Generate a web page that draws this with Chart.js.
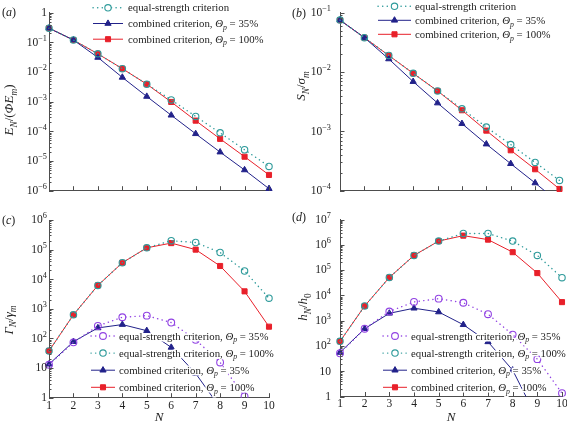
<!DOCTYPE html>
<html>
<head>
<meta charset="utf-8">
<script src="https://cdn.jsdelivr.net/npm/chart.js@4.4.1/dist/chart.umd.min.js"></script>
<style>
  body { margin: 0; background: #fff; }
  #wrap { position: relative; width: 567px; height: 428px; overflow: hidden; background: #fff; }
  canvas { position: absolute; }
</style>
</head>
<body>
<div id="wrap">
  <canvas id="chartA" width="283" height="205" style="left:0;top:0;width:283px;height:205px"></canvas>
  <canvas id="chartB" width="284" height="205" style="left:283px;top:0;width:284px;height:205px"></canvas>
  <canvas id="chartC" width="283" height="223" style="left:0;top:205px;width:283px;height:223px"></canvas>
  <canvas id="chartD" width="290" height="223" style="left:283px;top:205px;width:290px;height:223px"></canvas>
</div>
<script>
// number of blocks N
const nValues = [1, 2, 3, 4, 5, 6, 7, 8, 9, 10];

// (a) E_N/(ΦE_m)
const energyEqual   = [0.3, 0.12, 0.041, 0.013, 0.0039, 0.00115, 3.2e-4, 8.9e-5, 2.4e-5, 6.6e-6];
const energyComb35  = [0.3, 0.12, 0.031, 0.0066, 0.0015, 3.5e-4, 8.3e-5, 2.0e-5, 5.0e-6, 1.17e-6];
const energyComb100 = [0.3, 0.12, 0.041, 0.013, 0.0039, 9.8e-4, 2.3e-4, 5.6e-5, 1.4e-5, 3.4e-6];

// (b) S_N/σ_m
const stressEqual   = [0.075, 0.038, 0.019, 0.0095, 0.0048, 0.0024, 0.00118, 6.0e-4, 3.0e-4, 1.49e-4];
const stressComb35  = [0.075, 0.038, 0.0166, 0.0069, 0.003, 0.00135, 6.1e-4, 2.85e-4, 1.35e-4, 6.2e-5];
const stressComb100 = [0.075, 0.038, 0.019, 0.0095, 0.0048, 0.00227, 0.00103, 4.8e-4, 2.3e-4, 1.07e-4];

// (c) Γ_N/γ_m
const gammaEqual35   = [13, 74, 265, 520, 590, 345, 90, 15.5, 1.1, null];
const gammaEqual100  = [38, 630, 6200, 3.6e4, 1.15e5, 2.0e5, 1.74e5, 8.0e4, 1.9e4, 2300];
const gammaComb35    = [13.5, 78, 227, 295, 183, 50, 6.6, 0.46, null, null];
const gammaComb100   = [38, 630, 6200, 3.6e4, 1.15e5, 1.66e5, 1.0e5, 2.8e4, 3900, 250];

// (d) h_N/h_0
const heightEqual35  = [51, 480, 2300, 5500, 7400, 5100, 1800, 280, 30, 1.35];
const heightEqual100 = [152, 3800, 51000, 3.8e5, 1.4e6, 2.8e6, 2.8e6, 1.4e6, 3.8e5, 5.0e4];
const heightComb35   = [55, 480, 1950, 3100, 2200, 690, 145, 11, 0.13, null];
const heightComb100  = [152, 3800, 51000, 3.8e5, 1.4e6, 2.3e6, 1.6e6, 5.1e5, 7.6e4, 5400];

// y tick values (decades)
const ticksA = [1e-6, 1e-5, 1e-4, 1e-3, 1e-2, 1e-1, 1];
const ticksB = [1e-4, 1e-3, 1e-2, 1e-1];
const ticksC = [1, 10, 1e2, 1e3, 1e4, 1e5, 1e6];
const ticksD = [1, 10, 1e2, 1e3, 1e4, 1e5, 1e6, 1e7];

const labelEqual = 'equal-strength criterion';
const labelEqual35 = 'equal-strength criterion, Θ_p = 35%';
const labelEqual100 = 'equal-strength criterion, Θ_p = 100%';
const labelComb35 = 'combined criterion, Θ_p = 35%';
const labelComb100 = 'combined criterion, Θ_p = 100%';

const FONT = "'Liberation Serif', 'DejaVu Serif', serif";
const RED = '#e8202a', NAVY = '#22228a', TEAL = '#2f9b9b', VIOLET = '#9142e3';
const AXIS = '#4d4d4d';

const styles = {
  teal:   { color: TEAL,   dotted: true, pointStyle: 'circle',   radius: 3.2, hollow: true },
  violet: { color: VIOLET, dotted: true, pointStyle: 'circle',   radius: 3.4, hollow: true },
  navy:   { color: NAVY,   dotted: false, pointStyle: 'triangle', radius: 3.6, hollow: false },
  red:    { color: RED,    dotted: false, pointStyle: 'rect',     radius: 3.6, hollow: false }
};

// "1", "10", "10^e" as rich-text parts
function decadeParts(v) {
  const e = Math.round(Math.log10(v));
  if (e === 0) return [['1', '']];
  if (e === 1) return [['10', '']];
  return [['10', ''], [String(e).replace('-', '\u2212'), 'u']];
}

function makeDataset(label, values, st, order, clipBottom) {
  return {
    label: label,
    order: order,
    data: nValues.map((n, i) => ({ x: n, y: values[i] })),
    borderColor: st.color,
    borderWidth: st.dotted ? 1.4 : 1,
    borderDash: st.dotted ? [0.2, 4.4] : [],
    borderCapStyle: st.dotted ? 'round' : 'butt',
    pointStyle: st.pointStyle,
    pointRadius: st.radius,
    pointBackgroundColor: st.hollow ? 'rgba(0,0,0,0)' : st.color,
    pointBorderColor: st.color,
    pointBorderWidth: st.hollow ? 1.1 : 1,
    tension: 0,
    clip: { left: 8, right: 8, top: 8, bottom: clipBottom },
    legendStyle: st
  };
}

// text with italics, sub- and superscripts: parts = [[text, kind]], kind: 'i' italic, 's' sub, 'u' sup
function drawRich(ctx, parts, x, y, size, align, halo) {
  const items = parts.map(([t, k]) => {
    const small = k.includes('s') || k.includes('u');
    const s = small ? size * 0.72 : size;
    ctx.font = (k.includes('i') ? 'italic ' : '') + s + 'px ' + FONT;
    let dy = 0;
    if (k.includes('s')) dy = size * 0.25;
    if (k.includes('u')) dy = -size * 0.42;
    return { t: t, font: ctx.font, w: ctx.measureText(t).width, dy: dy };
  });
  const total = items.reduce((a, b) => a + b.w, 0);
  let x0 = x;
  if (align === 'center') x0 = x - total / 2;
  if (align === 'right') x0 = x - total;
  const base = y + size * 0.33;
  ctx.textAlign = 'left';
  ctx.textBaseline = 'alphabetic';
  if (halo) {
    ctx.save();
    ctx.strokeStyle = '#fff';
    ctx.lineWidth = 3;
    ctx.lineJoin = 'round';
    let hx = x0;
    items.forEach(it => { ctx.font = it.font; ctx.strokeText(it.t, hx, base + it.dy); hx += it.w; });
    ctx.restore();
  }
  let cx = x0;
  items.forEach(it => { ctx.font = it.font; ctx.fillText(it.t, cx, base + it.dy); cx += it.w; });
  return total;
}

function legendParts(label) {
  const k = label.indexOf('Θ_p');
  if (k < 0) return [[label, '']];
  return [[label.slice(0, k), ''], ['Θ', 'i'], ['p', 'is'], [label.slice(k + 3), '']];
}

const panelPlugin = {
  id: 'panel',
  afterDraw(chart, args, opts) {
    const ctx = chart.ctx;
    const area = chart.chartArea;
    const xs = chart.scales.x, ys = chart.scales.y;
    ctx.save();

    // inward tick marks
    ctx.strokeStyle = AXIS;
    ctx.lineWidth = 1;
    ctx.beginPath();
    for (let n = xs.min; n <= xs.max; n++) {
      const px = Math.round(xs.getPixelForValue(n)) + 0.5;
      ctx.moveTo(px, area.bottom);
      ctx.lineTo(px, area.bottom - 4.5);
    }
    const eMin = Math.round(Math.log10(ys.min)), eMax = Math.round(Math.log10(ys.max));
    for (let e = eMin; e <= eMax; e++) {
      const base = Math.pow(10, e);
      const py = Math.round(ys.getPixelForValue(base)) + 0.5;
      ctx.moveTo(area.left, py);
      ctx.lineTo(area.left + 4.5, py);
      if (e < eMax) {
        for (let k = 2; k <= 9; k++) {
          const my = Math.round(ys.getPixelForValue(k * base)) + 0.5;
          ctx.moveTo(area.left, my);
          ctx.lineTo(area.left + 2.5, my);
        }
      }
    }
    ctx.stroke();

    // y tick labels with superscript exponents, placed by the log scale
    ctx.fillStyle = '#222';
    ys.ticks.forEach(t => {
      drawRich(ctx, decadeParts(t.value), area.left - opts.labelGap, ys.getPixelForValue(t.value) - 0.5, 11.5, 'right', false);
    });

    // legend
    const lg = opts.legend;
    chart.data.datasets.forEach((ds, i) => {
      const st = ds.legendStyle;
      const y = lg.y + i * lg.dy;
      ctx.strokeStyle = st.color;
      ctx.lineWidth = st.dotted ? 1.4 : 1;
      ctx.lineCap = st.dotted ? 'round' : 'butt';
      ctx.setLineDash(st.dotted ? [0.2, 4.4] : []);
      ctx.beginPath();
      ctx.moveTo(lg.x, y);
      ctx.lineTo(lg.x + lg.len, y);
      ctx.stroke();
      ctx.setLineDash([]);
      ctx.fillStyle = st.hollow ? '#fff' : st.color;
      ctx.lineWidth = st.hollow ? 1.1 : 1;
      Chart.helpers.drawPoint(ctx, { pointStyle: st.pointStyle, radius: st.radius, rotation: 0, borderWidth: 1 }, lg.x + lg.len / 2, y);
      ctx.fillStyle = '#222';
      drawRich(ctx, legendParts(ds.label), lg.x + lg.len + lg.gap, y, 10.8, 'left', true);
    });

    // panel letter
    ctx.fillStyle = '#222';
    drawRich(ctx, [['(', ''], [opts.letter, 'i'], [')', '']], opts.letterPos[0], opts.letterPos[1], 12, 'left', false);

    // y title
    ctx.save();
    ctx.translate(opts.yTitlePos[0], opts.yTitlePos[1]);
    ctx.rotate(-Math.PI / 2);
    drawRich(ctx, opts.yTitle, 0, 0, 13, 'center', false);
    ctx.restore();

    // x title
    if (opts.xTitleY) {
      drawRich(ctx, [['N', 'i']], (area.left + area.right) / 2, opts.xTitleY, 13, 'center', false);
    }
    ctx.restore();
  }
};

function buildChart(id, cfg) {
  return new Chart(document.getElementById(id), {
    type: 'line',
    data: { datasets: cfg.datasets },
    options: {
      responsive: false,
      animation: false,
      events: [],
      layout: { padding: cfg.padding },
      plugins: {
        legend: { display: false },
        tooltip: { enabled: false },
        panel: cfg.panel
      },
      scales: {
        x: {
          type: 'linear', min: 1, max: 10,
          grid: { display: true, drawOnChartArea: false, drawTicks: false },
          border: { display: true, color: AXIS, width: 1 },
          ticks: { display: cfg.showX, stepSize: 1, padding: 1, color: '#222', font: { family: FONT, size: 11.5 } },
          afterFit: s => { s.height = cfg.xHeight; }
        },
        y: {
          type: 'logarithmic',
          min: cfg.yTicks[0], max: cfg.yTicks[cfg.yTicks.length - 1],
          grid: { display: true, drawOnChartArea: false, drawTicks: false },
          border: { display: true, color: AXIS, width: 1 },
          afterBuildTicks: s => { s.ticks = cfg.yTicks.map(v => ({ value: v })); },
          ticks: { display: false },
          afterFit: s => { s.width = cfg.yWidth; }
        }
      }
    },
    plugins: [panelPlugin]
  });
}

window.addEventListener('load', () => {
  buildChart('chartA', {
    datasets: [
      makeDataset(labelEqual, energyEqual, styles.teal, 0, 6),
      makeDataset(labelComb35, energyComb35, styles.navy, 1, 6),
      makeDataset(labelComb100, energyComb100, styles.red, 2, 6)
    ],
    yTicks: ticksA, yWidth: 49, xHeight: 0, showX: false,
    padding: { left: 0, top: 12.7, right: 14, bottom: 14.3 },
    panel: {
      letter: 'a', letterPos: [2, 12], labelGap: 2,
      yTitle: [['E', 'i'], ['N', 'is'], ['/(', ''], ['ΦE', 'i'], ['m', 'is'], [')', '']],
      yTitlePos: [9, 110],
      legend: { x: 93, y: 7.8, dy: 15.7, len: 30, gap: 5 }
    }
  });

  buildChart('chartB', {
    datasets: [
      makeDataset(labelEqual, stressEqual, styles.teal, 0, 6),
      makeDataset(labelComb35, stressComb35, styles.navy, 1, 0),
      makeDataset(labelComb100, stressComb100, styles.red, 2, 6)
    ],
    yTicks: ticksB, yWidth: 57, xHeight: 0, showX: false,
    padding: { left: 0, top: 12.7, right: 7.5, bottom: 14.3 },
    panel: {
      letter: 'b', letterPos: [9, 12.7], labelGap: 9,
      yTitle: [['S', 'i'], ['N', 'is'], ['/', ''], ['σ', 'i'], ['m', 'is']],
      yTitlePos: [18, 86],
      legend: { x: 95, y: 6.3, dy: 14, len: 33, gap: 4 }
    }
  });

  buildChart('chartC', {
    datasets: [
      makeDataset(labelEqual35, gammaEqual35, styles.violet, 0, 0),
      makeDataset(labelEqual100, gammaEqual100, styles.teal, 1, 6),
      makeDataset(labelComb35, gammaComb35, styles.navy, 2, 0),
      makeDataset(labelComb100, gammaComb100, styles.red, 3, 6)
    ],
    yTicks: ticksC, yWidth: 49, xHeight: 20, showX: true,
    padding: { left: 0, top: 15, right: 14, bottom: 10.3 },
    panel: {
      letter: 'c', letterPos: [2, 15], labelGap: 2,
      yTitle: [['Γ', 'i'], ['N', 'is'], ['/', ''], ['γ', 'i'], ['m', 'is']],
      yTitlePos: [8.5, 115],
      xTitleY: 212,
      legend: { x: 91, y: 131, dy: 17.1, len: 24, gap: 4 }
    }
  });

  buildChart('chartD', {
    datasets: [
      makeDataset(labelEqual35, heightEqual35, styles.violet, 0, 0),
      makeDataset(labelEqual100, heightEqual100, styles.teal, 1, 6),
      makeDataset(labelComb35, heightComb35, styles.navy, 2, 0),
      makeDataset(labelComb100, heightComb100, styles.red, 3, 6)
    ],
    yTicks: ticksD, yWidth: 57, xHeight: 20, showX: true,
    padding: { left: 0, top: 14.5, right: 11, bottom: 11.5 },
    panel: {
      letter: 'd', letterPos: [9, 12], labelGap: 9,
      yTitle: [['h', 'i'], ['N', 'is'], ['/', ''], ['h', 'i'], ['0', 's']],
      yTitlePos: [20, 102],
      xTitleY: 212,
      legend: { x: 100, y: 131, dy: 17.1, len: 24, gap: 4 }
    }
  });
});
</script>
</body>
</html>
